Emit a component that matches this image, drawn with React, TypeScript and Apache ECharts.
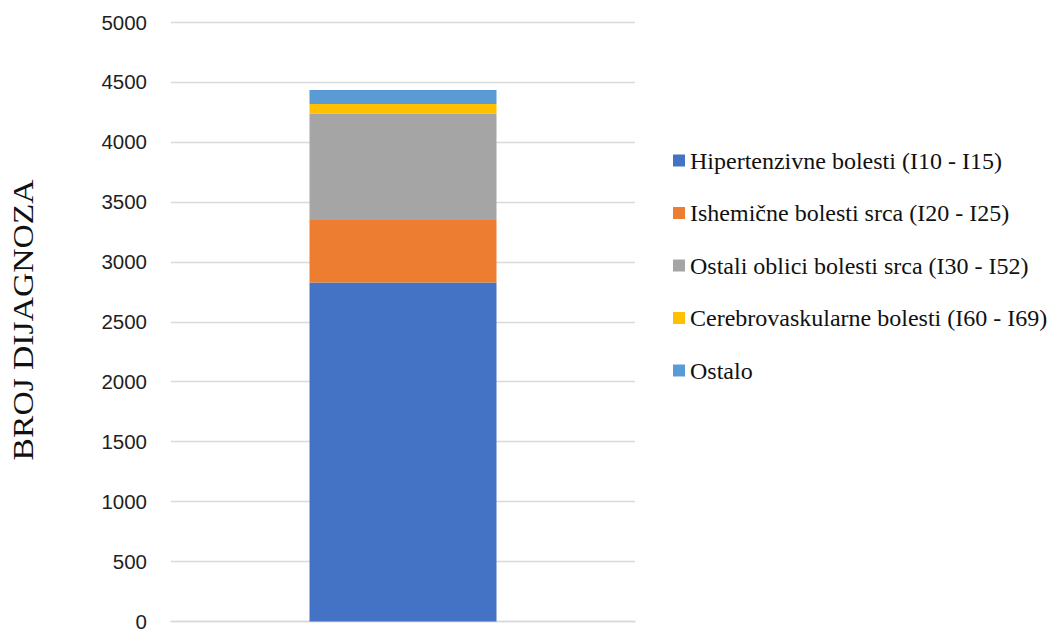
import React, { useEffect, useRef } from "react";
import * as echarts from "echarts";

const categories = [""];
const seriesNames = [
  "Hipertenzivne bolesti (I10 - I15)",
  "Ishemične bolesti srca (I20 - I25)",
  "Ostali oblici bolesti srca (I30 - I52)",
  "Cerebrovaskularne bolesti (I60 - I69)",
  "Ostalo",
];
const hipertenzivne = [2827];
const ishemicne = [522];
const ostaliOblici = [885];
const cerebrovaskularne = [83];
const ostalo = [116];
const seriesValues = [hipertenzivne, ishemicne, ostaliOblici, cerebrovaskularne, ostalo];
const colors = ["#4472C4", "#ED7D31", "#A5A5A5", "#FFC000", "#5B9BD5"];
const yAxisTitle = "BROJ DIJAGNOZA";

export default function App() {
  const ref = useRef<HTMLDivElement>(null);
  useEffect(() => {
    if (!ref.current) return;
    const chart = echarts.init(ref.current, undefined, { renderer: "svg" });
    const serif = '"Liberation Serif", "Times New Roman", serif';
    chart.setOption({
      animation: false,
      backgroundColor: "#ffffff",
      color: colors,
      grid: { left: 171, right: 414, top: 22, bottom: 6.5, containLabel: false },
      xAxis: {
        type: "category",
        data: categories,
        axisLine: { show: true, lineStyle: { color: "#D9D9D9", width: 1.3 } },
        axisTick: { show: false },
        axisLabel: { show: false },
      },
      yAxis: {
        type: "value",
        min: 0,
        max: 5000,
        interval: 500,
        axisLine: { show: false },
        axisTick: { show: false },
        splitLine: { lineStyle: { color: "#D9D9D9", width: 1.3 } },
        axisLabel: {
          margin: 24,
          fontSize: 20.5,
          color: "#1f1f1f",
          fontFamily: '"Liberation Sans", Arial, sans-serif',
          formatter: (v: number) => String(v),
        },
      },
      legend: {
        orient: "vertical",
        left: 673,
        top: 148.5,
        padding: 0,
        itemWidth: 12,
        itemHeight: 12,
        itemGap: 28.5,
        icon: "rect",
        data: seriesNames,
        textStyle: { fontSize: 24, lineHeight: 24, color: "#111", fontFamily: serif },
      },
      graphic: [
        {
          type: "text",
          x: 23,
          y: 320,
          rotation: Math.PI / 2,
          scaleX: 1.12,
          style: {
            text: yAxisTitle,
            font: `30px ${serif}`,
            fill: "#111",
            textAlign: "center",
            textVerticalAlign: "middle",
          },
        },
      ],
      series: seriesNames.map((name, i) => ({
        name,
        type: "bar",
        stack: "total",
        barWidth: 187,
        data: seriesValues[i],
        itemStyle: { color: colors[i] },
      })),
    });
    return () => chart.dispose();
  }, []);
  return <div ref={ref} style={{ width: 1049, height: 632, position: "absolute", left: 0, top: 0 }} />;
}
